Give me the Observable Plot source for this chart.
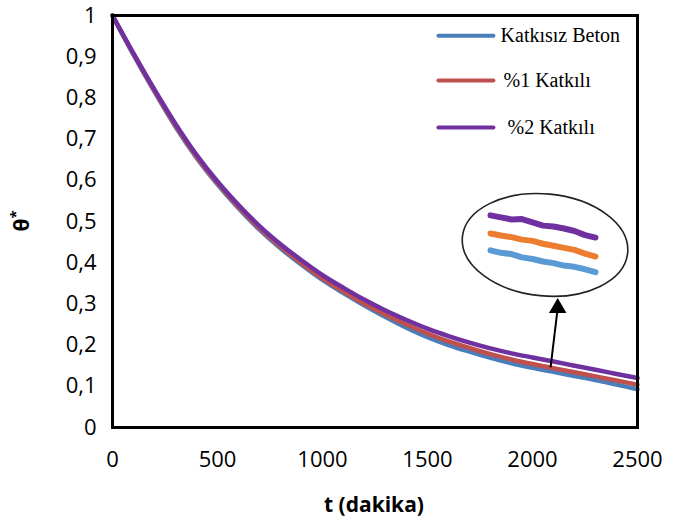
<!DOCTYPE html>
<html><head><meta charset="utf-8">
<script src="https://cdn.jsdelivr.net/npm/d3@7"></script>
<script src="https://cdn.jsdelivr.net/npm/@observablehq/plot@0.6"></script>
<style>body{margin:0;background:#fff}</style>
</head><body><div id="chart"></div>
<script>
// time (minutes)
const t = [0,100,200,300,400,500,600,700,800,900,1000,1100,1200,1300,1400,1500,1600,1700,1800,1900,2000,2100,2200,2300,2400,2500];
// θ* series
const katkisizBeton = [1.000,0.905,0.815,0.730,0.655,0.590,0.532,0.480,0.435,0.395,0.358,0.326,0.296,0.268,0.242,0.219,0.200,0.184,0.169,0.156,0.145,0.135,0.125,0.115,0.104,0.093];
const katkili1 = [1.000,0.906,0.817,0.733,0.658,0.593,0.535,0.484,0.439,0.399,0.362,0.330,0.300,0.274,0.250,0.228,0.209,0.193,0.178,0.165,0.154,0.144,0.134,0.124,0.114,0.104];
const katkili2 = [1.000,0.908,0.820,0.737,0.662,0.597,0.540,0.489,0.445,0.406,0.370,0.339,0.310,0.284,0.261,0.240,0.222,0.206,0.192,0.180,0.170,0.160,0.150,0.140,0.130,0.120];
const seriesNames = ["Katkısız Beton","%1 Katkılı","%2 Katkılı"];

// magnified inset (placed inside the ellipse)
const insetT = [1800,1850,1900,1950,2000,2050,2100,2150,2200,2250,2300];
const insetBlue = [0.430,0.424,0.421,0.413,0.409,0.403,0.399,0.393,0.390,0.384,0.377];
const insetOrange = [0.471,0.466,0.462,0.456,0.453,0.446,0.441,0.436,0.431,0.422,0.415];
const insetPurple = [0.515,0.510,0.505,0.506,0.498,0.490,0.488,0.483,0.477,0.467,0.461];

// arrow (data coords)
const arrowFrom = {t:2086, v:0.146};
const arrowTo = {t:2120, v:0.290};

const xTicks = [0,500,1000,1500,2000,2500];
const yTicks = [0,0.1,0.2,0.3,0.4,0.5,0.6,0.7,0.8,0.9,1];

const colors = ["#4a7ebb","#c0504d","#7030a0"];
const insetColors = ["#5b9bd5","#ed7d31","#7030a0"];

const mk = (vals) => t.map((x,i)=>({t:x, v:vals[i]}));
const mkI = (vals) => insetT.map((x,i)=>({t:x, v:vals[i]}));

const legendY = [0.951, 0.842, 0.728];
const legendTextX = [1848, 1862, 1881];
const legend = seriesNames.map((n,i)=>({name:n, y:legendY[i], tx:legendTextX[i], c:colors[i]}));

const chart = Plot.plot({
  width: 683, height: 525,
  marginLeft: 112, marginRight: 46, marginTop: 15, marginBottom: 98,
  style: {fontFamily: "'Open Sans', sans-serif", fontSize: "22px", color: "#000", background: "#fff", overflow: "visible"},
  x: {domain: [0,2500]},
  y: {domain: [0,1]},
  marks: [
    Plot.axisX({ticks: xTicks, tickSize: 0, tickPadding: 24, label: null, fontSize: 22, tickFormat: d => String(d)}),
    Plot.axisY({ticks: yTicks, tickSize: 0, tickPadding: 16, label: null, fontSize: 22,
      tickFormat: d => String(+d.toFixed(1)).replace(".", ",")}),
    Plot.line(mk(katkisizBeton), {x:"t", y:"v", stroke: colors[0], strokeWidth: 4.5, curve:"monotone-x"}),
    Plot.line(mk(katkili1), {x:"t", y:"v", stroke: colors[1], strokeWidth: 4.5, curve:"monotone-x"}),
    Plot.line(mk(katkili2), {x:"t", y:"v", stroke: colors[2], strokeWidth: 4.5, curve:"monotone-x"}),
    Plot.line(mkI(insetBlue), {x:"t", y:"v", stroke: insetColors[0], strokeWidth: 6}),
    Plot.line(mkI(insetOrange), {x:"t", y:"v", stroke: insetColors[1], strokeWidth: 6}),
    Plot.line(mkI(insetPurple), {x:"t", y:"v", stroke: insetColors[2], strokeWidth: 6}),
    Plot.link([arrowFrom], {x1:"t", y1:"v", x2: () => arrowTo.t, y2: () => arrowTo.v, stroke:"#000", strokeWidth: 2}),
    Plot.dot([arrowTo], {x:"t", y:"v", symbol:"triangle", r: 6.5, fill:"#000", stroke:"none"}),
    Plot.link(legend, {x1: () => 1552, x2: () => 1814, y1:"y", y2:"y", stroke:"c", strokeWidth: 4, strokeLinecap:"round"}),
    Plot.text(legend, {x:"tx", y:"y", text:"name", textAnchor:"start", fontFamily:"'Liberation Serif', serif", fontSize: 20, fill:"#000"}),
    Plot.frame({stroke:"#000", strokeWidth: 3})
  ]
});

document.getElementById("chart").appendChild(chart);

const sx = chart.scale("x").apply, sy = chart.scale("y").apply;
const svg = d3.select(chart);
// ellipse around inset
const cx = sx(2062), cy = sy(0.442);
svg.append("ellipse").attr("cx", cx).attr("cy", cy).attr("rx", 83).attr("ry", 51)
  .attr("transform", `rotate(5.5,${cx},${cy})`)
  .attr("fill","none").attr("stroke","#222").attr("stroke-width",1.6);

// axis titles
svg.append("text").attr("x", 374).attr("y", 512).attr("text-anchor","middle")
  .attr("font-family","'Open Sans', sans-serif").attr("font-weight","bold").attr("font-size",21)
  .text("t (dakika)");
const yl = svg.append("text").attr("transform","translate(29,221) rotate(-90)").attr("text-anchor","middle")
  .attr("font-family","'Open Sans', sans-serif").attr("font-weight","bold").attr("font-size",21);
yl.append("tspan").text("θ");
yl.append("tspan").attr("dy",-8).attr("font-size",15).text("*");
</script>
</body></html>
